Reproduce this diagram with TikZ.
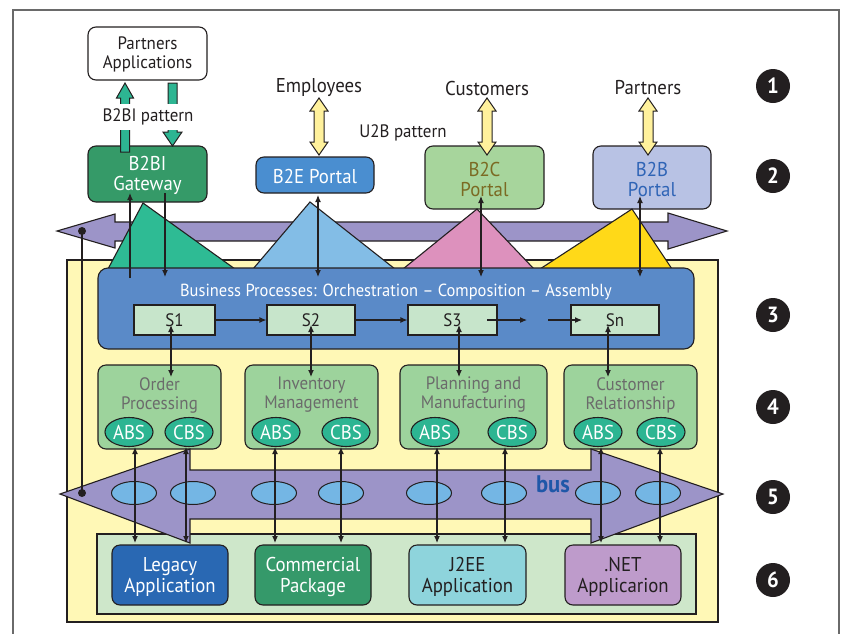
\documentclass[tikz,border=0pt]{standalone}
\usepackage{fontspec}
\setmainfont{PT Sans}[FakeStretch=0.94]
\usetikzlibrary{arrows.meta,shapes.geometric}

\definecolor{ol}{HTML}{231F20}
\definecolor{frame}{HTML}{6A6A6A}
\definecolor{gwgreen}{HTML}{359A68}
\definecolor{teal}{HTML}{2DB592}
\definecolor{b2eblue}{HTML}{4A8ED0}
\definecolor{b2cfill}{HTML}{A7D59C}
\definecolor{b2ctext}{HTML}{7B6A23}
\definecolor{b2bfill}{HTML}{B8C2E4}
\definecolor{b2btext}{HTML}{2F64B6}
\definecolor{purple}{HTML}{9C94C8}
\definecolor{bgyellow}{HTML}{FFF8B6}
\definecolor{triteal}{HTML}{2EBB94}
\definecolor{trisky}{HTML}{83BDE6}
\definecolor{tripink}{HTML}{DD91BD}
\definecolor{trigold}{HTML}{FFD918}
\definecolor{bpblue}{HTML}{5A8AC8}
\definecolor{sgreen}{HTML}{C7E5CB}
\definecolor{domgreen}{HTML}{9DD39C}
\definecolor{domtext}{HTML}{6B6B6B}
\definecolor{busblue}{HTML}{74B6E4}
\definecolor{bustext}{HTML}{1F57A8}
\definecolor{appgreen}{HTML}{CEE7CA}
\definecolor{legacy}{HTML}{2968B3}
\definecolor{commercial}{HTML}{35996A}
\definecolor{jee}{HTML}{8ED4DC}
\definecolor{dotnet}{HTML}{BE9BCB}
\definecolor{fatyellow}{HTML}{FFF19C}

\newcommand{\fs}[2]{\fontsize{#1}{#2}\selectfont}

% vertical fat double-headed arrow: x, ytop, ybottom, fill
\newcommand{\fatdouble}[4]{%
  \filldraw[fill=#4, draw=ol, line width=1pt, line join=miter]
    (#1,#2) -- ({#1+9},{#2+13}) -- ({#1+5},{#2+13}) -- ({#1+5},{#3-13})
    -- ({#1+9},{#3-13}) -- (#1,#3) -- ({#1-9},{#3-13}) -- ({#1-5},{#3-13})
    -- ({#1-5},{#2+13}) -- ({#1-9},{#2+13}) -- cycle;}

\tikzset{
  box/.style={draw=ol, line width=1.1pt, rounded corners=8pt, inner sep=0pt,
              outer sep=0pt, align=center},
  txt/.style={inner sep=0pt, align=center},
  lbl/.style={font=\fs{20}{22}, text=ol, inner sep=1pt},
  sbox/.style={draw=ol, line width=1.1pt, fill=sgreen, minimum height=30pt,
               inner sep=0pt, font=\fs{18}{18}, text=ol},
  dom/.style={box, fill=domgreen, minimum height=84pt},
  domlbl/.style={txt, text=domtext, font=\fs{18}{19}},
  svc/.style={ellipse, draw=ol, line width=1.1pt, fill=teal, minimum width=48pt,
              minimum height=29pt, inner sep=0pt, text=white, font=\fs{20}{20}},
  bell/.style={ellipse, draw=ol, line width=1pt, fill=busblue,
               minimum width=45pt, minimum height=23pt, inner sep=0pt},
  app/.style={box, minimum width=116pt, minimum height=60pt},
  apptxt/.style={txt, font=\fs{20}{21}},
  num/.style={circle, fill=ol, minimum size=34pt, inner sep=0pt, text=white,
              font=\bfseries\fs{22}{22}},
  tip/.style={line width=1.1pt, draw=ol, -{Latex[length=7pt,width=6pt]}},
  both/.style={line width=1.1pt, draw=ol,
               {Latex[length=7pt,width=6pt]}-{Latex[length=7pt,width=6pt]}},
  outl/.style={draw=ol, line width=1.1pt, line join=miter},
}

\begin{document}
\begin{tikzpicture}[x=1pt,y=-1pt]
\useasboundingbox (0,0) rectangle (844,633);

% page frame
\draw[frame, line width=1.5pt] (13,640) -- (13,10) -- (839,10) -- (839,640);

% ---------- level 1 / 2 : partners, gateway, portals ----------
\node[box, fill=white, minimum width=119pt, minimum height=53pt] (pa) at (147.5,53.5) {};
\node[txt, font=\fs{18}{18.5}, text=ol] (pat) at ([yshift=-1pt]pa.center) {Partners\\Applications};

\node[box, fill=gwgreen, minimum width=119pt, minimum height=56pt] (gw) at (147.5,174) {};
\node[txt, font=\fs{20}{20}, text=white] (gwt) at ([yshift=-1.5pt]gw.center) {B2BI\\Gateway};

% B2BI fat arrows
\filldraw[fill=teal, draw=ol, line width=1pt, line join=miter]
  (125,83) -- (133.5,98) -- (129.5,98) -- (129.5,152) -- (120.5,152)
  -- (120.5,98) -- (116.5,98) -- cycle;
\filldraw[fill=teal, draw=ol, line width=1pt, line join=miter]
  (168,83) -- (177,83) -- (177,132) -- (182,132) -- (172.5,146)
  -- (163,132) -- (168,132) -- cycle;
\node[lbl, font=\fs{18}{18}, fill=white, inner xsep=1pt, inner ysep=5pt]
  (b2bi) at (148,117) {B2BI pattern};

\node[box, fill=b2eblue, minimum width=118pt, minimum height=36pt] (b2e) at (315,175) {};
\node[txt, font=\fs{20}{20}, text=white] (b2et) at ([yshift=-1.5pt]b2e.center) {B2E Portal};
\node[box, fill=b2cfill, minimum width=119pt, minimum height=63pt] (b2c) at (484.5,177.5) {};
\node[txt, font=\fs{20}{20}, text=b2ctext] (b2ct) at ([yshift=-1.5pt]b2c.center) {B2C\\Portal};
\node[box, fill=b2bfill, minimum width=118pt, minimum height=63pt] (b2b) at (652,177.5) {};
\node[txt, font=\fs{20}{20}, text=b2btext] (b2bt) at ([yshift=-1.5pt]b2b.center) {B2B\\Portal};

\node[lbl] (emp) at (319,88) {Employees};
\node[lbl] (cus) at (487,88) {Customers};
\node[lbl] (par) at (648,88) {Partners};
\node[lbl, font=\fs{18}{18}] (u2b) at (403,132.5) {U2B pattern};

\fatdouble{319}{98}{155}{fatyellow}
\fatdouble{487}{98}{155}{fatyellow}
\fatdouble{648}{98}{155}{fatyellow}

% top purple channel
\filldraw[fill=purple, outl]
  (57,231) -- (115,214) -- (115,222) -- (668,222) -- (668,213) -- (727,231)
  -- (668,249) -- (668,241) -- (115,241) -- (115,248) -- cycle;

% ---------- integration area ----------
\filldraw[fill=bgyellow, outl] (67,260) rectangle (718,622);

% access triangles
\filldraw[fill=triteal, outl] (143,203) -- (235,269) -- (108,269) -- cycle;
\filldraw[fill=trisky, outl] (310,202) -- (395,269) -- (253,269) -- cycle;
\filldraw[fill=tripink, outl] (477,209) -- (534,269) -- (403,269) -- cycle;
\filldraw[fill=trigold, outl] (632,209) -- (672,269) -- (540,269) -- cycle;

% business processes
\node[box, rounded corners=10pt, fill=bpblue, minimum width=596pt,
      minimum height=81pt] (bp) at (396,308.5) {};
\node[font=\fs{17.5}{18}, text=white, inner sep=0pt] (bpt) at (396,292)
  {Business Processes: Orchestration -- Composition -- Assembly};

\node[sbox, minimum width=81pt] (s1) at (174.5,320) {S1};
\node[sbox, minimum width=88pt] (s2) at (311,320) {S2};
\node[sbox, minimum width=89pt] (s3) at (452.5,320) {S3};
\node[sbox, minimum width=88pt] (sn) at (615,320) {Sn};

\draw[tip] (s1.east) -- (s2.west);
\draw[tip] (s2.east) -- (s3.west);
\coordinate (s3o) at (487,320);
\coordinate (gapa) at (527,320);
\coordinate (gapb) at (548,320);
\coordinate (sni) at (582,320);
\draw[tip] (s3o) -- (gapa);
\draw[tip] (gapb) -- (sni);

% domains
\node[dom, minimum width=123pt] (op) at (159.5,407) {};
\node[dom, minimum width=133pt] (im) at (311.5,407) {};
\node[dom, minimum width=147pt] (pm) at (473.5,407) {};
\node[dom, minimum width=133pt] (cr) at (630.5,407) {};
\node[domlbl] (opt) at (159.5,395) {Order\\Processing};
\node[domlbl] (imt) at (311.5,395) {Inventory\\Management};
\node[domlbl] (pmt) at (473.5,395) {Planning and\\Manufacturing};
\node[domlbl] (crt) at (630.5,395) {Customer\\Relationship};

\node[svc] (opa) at (129,432) {ABS};
\node[svc] (opc) at (189,432) {CBS};
\node[svc] (ima) at (276,432) {ABS};
\node[svc] (imc) at (346,432) {CBS};
\node[svc] (pma) at (435,432) {ABS};
\node[svc] (pmc) at (512,432) {CBS};
\node[svc] (cra) at (598,432) {ABS};
\node[svc] (crc) at (661,432) {CBS};

% applications
\filldraw[fill=appgreen, outl] (97,534) rectangle (696,614);
\node[app, fill=legacy] (leg) at (170,575) {};
\node[app, fill=commercial] (com) at (313,575) {};
\node[app, fill=jee, minimum width=117pt] (j2e) at (467.5,575) {};
\node[app, fill=dotnet] (net) at (623,575) {};
\node[apptxt, text=white] (legt) at ([yshift=-2pt]leg.center) {Legacy\\Application};
\node[apptxt, text=white] (comt) at ([yshift=-2pt]com.center) {Commercial\\Package};
\node[apptxt, text=ol] (j2et) at ([yshift=-2pt]j2e.center) {J2EE\\Application};
\node[apptxt, text=ol] (nett) at ([yshift=-2pt]net.center) {.NET\\Applicarion};

% bus
\filldraw[fill=purple, outl]
  (60,494) -- (190,449) -- (190,470) -- (591,470) -- (591,449) -- (723,494)
  -- (591,543) -- (591,519) -- (190,519) -- (190,543) -- cycle;
\foreach \n/\x in {1/134,2/193,3/274,4/341,5/429,6/504,7/598,8/658}
  \node[bell] (bus\n) at (\x,493) {};
\node[font=\bfseries\fs{24}{24}, text=bustext, inner sep=0pt] (bus) at (553,484) {bus};

% connectors: portals / gateway to processes
\coordinate (gwu1) at (130,278);
\coordinate (gwu2) at (130,193);
\coordinate (gwd1) at (165,193);
\coordinate (gwd2) at (165,277);
\draw[tip] (gwu1) -- (gwu2);
\draw[tip] (gwd1) -- (gwd2);
\coordinate (e1) at (318,195);  \coordinate (e2) at (318,277);
\coordinate (c1) at (481,196);  \coordinate (c2) at (481,277);
\coordinate (p1) at (640,196);  \coordinate (p2) at (640,277);
\draw[both] (e1) -- (e2);
\draw[both] (c1) -- (c2);
\draw[both] (p1) -- (p2);

% steps to domains
\coordinate (k1a) at (171,325); \coordinate (k1b) at (171,377);
\coordinate (k2a) at (311,325); \coordinate (k2b) at (311,377);
\coordinate (k3a) at (459,325); \coordinate (k3b) at (459,377);
\coordinate (k4a) at (608,325); \coordinate (k4b) at (608,377);
\draw[both] (k1a) -- (k1b);
\draw[both] (k2a) -- (k2b);
\draw[both] (k3a) -- (k3b);
\draw[both] (k4a) -- (k4b);

% services to applications through the bus
\foreach \i/\x in {1/135,2/186,3/275,4/341,5/437,6/505,7/601,8/660}{
  \coordinate (v\i a) at (\x,447);
  \coordinate (v\i b) at (\x,543);
  \draw[both] (v\i a) -- (v\i b);
}

% link between the two channels
\coordinate (d1) at (82,231);
\coordinate (d2) at (82,493);
\draw[line width=1.3pt, draw=ol] (d1) -- (d2);
\fill[ol] (d1) circle (4pt) (d2) circle (4pt);

% level numbers
\node[num] (n1) at (773,86) {1};
\node[num] (n2) at (773,176) {2};
\node[num] (n3) at (773,315) {3};
\node[num] (n4) at (773,407) {4};
\node[num] (n5) at (773,497) {5};
\node[num] (n6) at (773,580) {6};
\end{tikzpicture}
\end{document}
